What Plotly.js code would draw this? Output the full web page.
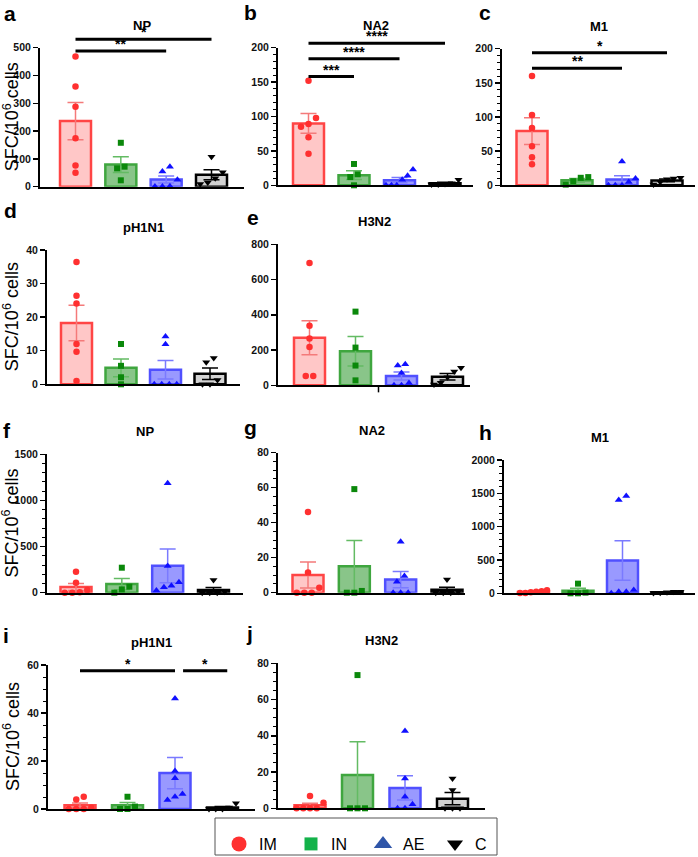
<!DOCTYPE html>
<html><head><meta charset="utf-8">
<script src="https://cdn.plot.ly/plotly-3.0.1.min.js"></script>
<style>body{margin:0;padding:0;background:#fff}#chart{width:698px;height:857px}</style>
</head><body><div id="chart"></div>
<script>
const W = 698, H = 857;
const FONT = 'Liberation Sans, Arial, Helvetica, sans-serif';

// ---------- DATA ----------
const groups = ['IM', 'IN', 'AE', 'C'];
const panelLetters = ['a','b','c','d','e','f','g','h','i','j'];
const panelTitles = ['NP','NA2','M1','pH1N1','H3N2','NP','NA2','M1','pH1N1','H3N2'];
const yAxisTitle = 'SFC/10<sup>6</sup> cells';

// a: NP
const a_IM = [468, 360, 288, 174, 76, 50];
const a_IN = [158, 72, 66, 23];
const a_AE = [72, 55, 25, 2, 1, 1];
const a_C  = [108, 52, 30, 15, 10];
// b: NA2
const b_IM = [152, 98, 89, 85, 70, 46];
const b_IN = [31, 16, 12, 0];
const b_AE = [23, 14, 8, 0, 0, 0];
const b_C  = [8, 3, 2, 1, 1];
// c: M1
const c_IM = [160, 103, 84, 57, 41, 31];
const c_IN = [12, 11, 6, 1];
const c_AE = [35, 10, 5, 0, 0, 0];
const c_C  = [11, 10, 9, 5, 1];
// d: pH1N1
const d_IM = [36.4, 26.4, 24.1, 12, 9.7, 1];
const d_IN = [12, 5.5, 2.1, 0];
const d_AE = [14.2, 11.9, 0, 0, 0, 0];
const d_C  = [7.8, 6.6, 1.3, 0, 0];
// e: H3N2
const e_IM = [694, 338, 265, 217, 53, 53];
const e_IN = [418, 214, 112, 28];
const e_AE = [119, 112, 70, 13, 0, 0];
const e_C  = [100, 78, 45, 15, 5];
// f: NP
const f_IM = [228, 108, 30, 5, 0, 0];
const f_IN = [271, 65, 36, 0];
const f_AE = [1185, 289, 112, 76, 58, 25];
const f_C  = [137, 10, 0, 0, 0];
// g: NA2
const g_IM = [46.1, 11.6, 2.9, 0, 0, 0];
const g_IN = [59.2, 1, 0, 0];
const g_AE = [29.1, 9.5, 6.3, 0, 0, 0];
const g_C  = [7.6, 0.6, 0, 0, 0];
// h: M1
const h_IM = [45, 30, 25, 15, 5, 5];
const h_IN = [145, 10, 0, 0];
const h_AE = [1460, 1400, 50, 25, 25, 0];
const h_C  = [25, 25, 15, 10, 5];
// i: pH1N1
const i_IM = [5.1, 4, 0.5, 0, 0, 0];
const i_IN = [5.1, 1, 0, 0];
const i_AE = [46, 15.8, 12.8, 6.3, 5.1, 3.8];
const i_C  = [2.4, 0.6, 0, 0, 0];
// j: H3N2
const j_IM = [6.8, 3.1, 0, 0, 0, 0];
const j_IN = [73.5, 0, 0, 0];
const j_AE = [42.6, 16.4, 6.4, 2.2, 0, 0];
const j_C  = [16.5, 10.1, 0, 0, 0];

const panelData = [
  [a_IM, a_IN, a_AE, a_C], [b_IM, b_IN, b_AE, b_C], [c_IM, c_IN, c_AE, c_C],
  [d_IM, d_IN, d_AE, d_C], [e_IM, e_IN, e_AE, e_C], [f_IM, f_IN, f_AE, f_C],
  [g_IM, g_IN, g_AE, g_C], [h_IM, h_IN, h_AE, h_C], [i_IM, i_IN, i_AE, i_C],
  [j_IM, j_IN, j_AE, j_C]
];

const yMax   = [500, 200, 200, 40, 800, 1500, 80, 2000, 60, 80];
const yDtick = [100, 50, 50, 10, 200, 500, 20, 500, 20, 20];
const yMinor = [0, 10, 10, 0, 0, 100, 5, 100, 5, 5];

// significance comparisons: [group index from, group index to, label]
const sigPairs = [
  [[0, 2, '**'], [0, 3, '*']],
  [[0, 1, '***'], [0, 2, '****'], [0, 3, '****']],
  [[0, 2, '**'], [0, 3, '*']],
  [], [], [], [], [],
  [[0, 2, '*'], [2, 3, '*']],
  []
];

// ---------- LAYOUT CONFIG (pixels) ----------
const boxes = [
  {yx:40,  xr:244, top:47.7,  bot:186.7, c0:75.5,  c3:211.5},
  {yx:278, xr:473, top:47.7,  bot:185.3, c0:308.5, c3:445},
  {yx:502, xr:695, top:48.7,  bot:185.3, c0:532,   c3:667},
  {yx:47,  xr:240, top:250,   bot:384.3, c0:76.5,  c3:210},
  {yx:278, xr:470, top:244.3, bot:385.3, c0:309.5, c3:447.5},
  {yx:47,  xr:243, top:454.3, bot:592.7, c0:76,    c3:213.5},
  {yx:278, xr:465, top:452.7, bot:592.7, c0:308,   c3:447},
  {yx:504, xr:695, top:460,   bot:593.3, c0:533.5, c3:667},
  {yx:48,  xr:255, top:665,   bot:809,   c0:80,    c3:222.5},
  {yx:278, xr:485, top:663.3, bot:808.3, c0:310,   c3:452.5}
];
const sigLevels = [[0.976, 1.060], [0.79, 0.92, 1.032], [0.856, 0.97], [], [], [], [], [], [0.96, 0.96], []];
const letterPos = [[3,18],[243,17],[478,17],[3,215],[246,222],[2,435],[243,432],[478,437],[2,640],[245,638]];
const yTitlePanels = [0, 3, 5, 8];

const styles = [
  {sym:'circle',        mc:'#ff3030', fill:'rgba(255,80,80,0.32)', line:'#ff4545', err:'#f47a7a', size:6.5, lsize:15},
  {sym:'square',        mc:'#0b880b', fill:'rgba(40,150,40,0.55)', line:'#3fa63f', err:'#63bb63', size:6,   lsize:13},
  {sym:'triangle-up',   mc:'#1010ff', fill:'rgba(60,60,255,0.52)', line:'#5050ff', err:'#7a7aff', size:7,   lsize:16},
  {sym:'triangle-down', mc:'#000000', fill:'#d3d3d3',              line:'#000000', err:'#000000', size:7,   lsize:14}
];

function mean(a){ return a.reduce((s,v)=>s+v,0)/a.length; }
function sem(a){ const m=mean(a); const v=a.reduce((s,x)=>s+(x-m)*(x-m),0)/(a.length-1); return Math.sqrt(v/a.length); }

function swarm(vals, ymax, hpx, spx){
  const dia = 6.5;
  const idx = vals.map((v,i)=>i).sort((a,b)=>vals[a]-vals[b]);
  const clusters = []; let cur = []; let last = null;
  idx.forEach(i=>{
    const p = vals[i]/ymax*hpx;
    if (last !== null && p - last < dia) cur.push(i);
    else { if (cur.length) clusters.push(cur); cur = [i]; }
    last = p;
  });
  if (cur.length) clusters.push(cur);
  const off = new Array(vals.length).fill(0);
  clusters.forEach(c=>{
    const n = c.length; if (n < 2) return;
    const dx = Math.min(7.5, 27/(n-1));
    c.forEach((i,k)=>{ off[i] = (k-(n-1)/2)*dx/spx; });
  });
  return off;
}

const traces = [];
const layout = {
  width: W, height: H, margin:{l:0,r:0,t:0,b:0,autoexpand:false},
  paper_bgcolor:'#fff', plot_bgcolor:'rgba(0,0,0,0)',
  barmode:'overlay', showlegend:true,
  font:{family:FONT, color:'#000'},
  shapes:[], annotations:[],
  legend:{orientation:'h', x:219/W, xanchor:'left', y:1-827/H, yanchor:'top', entrywidth:27, entrywidthmode:'pixels',
          bgcolor:'rgba(0,0,0,0)', borderwidth:0, font:{family:FONT, size:16, color:'#000'},
          itemclick:false, itemdoubleclick:false}
};

boxes.forEach((b, p)=>{
  const n = p + 1;
  const xa = 'xaxis' + (n===1?'':n), ya = 'yaxis' + (n===1?'':n);
  const xr = 'x' + (n===1?'':n), yr = 'y' + (n===1?'':n);
  const s = (b.c3 - b.c0)/3;
  const rl = -(b.c0 - b.yx)/s, rr = 3 + (b.xr - b.c3)/s;
  const hpx = b.bot - b.top;
  layout[xa] = {domain:[b.yx/W, b.xr/W], range:[rl, rr], anchor:yr, showline:true, linewidth:2, linecolor:'#000',
                ticks:'', showticklabels:false, showgrid:false, zeroline:false, fixedrange:true};
  const yax = {domain:[1-b.bot/H, 1-b.top/H], range:[0, yMax[p]], anchor:xr, showline:true, linewidth:2, linecolor:'#000',
               ticks:'outside', ticklen:5, tickwidth:1.5, tickcolor:'#000', tick0:0, dtick:yDtick[p],
               showgrid:false, zeroline:false, fixedrange:true,
               tickfont:{family:FONT, size:10.5, color:'#111', weight:'bold'}};
  if (yMinor[p]) yax.minor = {dtick:yMinor[p], tick0:0, ticks:'outside', ticklen:3, tickwidth:1, tickcolor:'#000', showgrid:false};
  layout[ya] = yax;

  panelData[p].forEach((vals, g)=>{
    const st = styles[g];
    traces.push({type:'bar', x:[g], y:[mean(vals)], width:31/s, xaxis:xr, yaxis:yr, showlegend:false,
      marker:{color:st.fill, line:{color:st.line, width:2.5}},
      error_y:{type:'data', array:[sem(vals)], visible:true, color:st.err, thickness:1.5, width:8},
      hoverinfo:'skip'});
  });
  panelData[p].forEach((vals, g)=>{
    const st = styles[g];
    const off = swarm(vals, yMax[p], hpx, s);
    traces.push({type:'scatter', mode:'markers', x:vals.map((v,i)=>g+off[i]), y:vals, xaxis:xr, yaxis:yr,
      showlegend:false, cliponaxis:false, hoverinfo:'skip',
      marker:{symbol:st.sym, size:st.size, color:st.mc, line:{width:0}}});
  });

  // significance
  const ends = {};
  sigPairs[p].forEach((sp, k)=>{
    const lvl = sigLevels[p][k];
    let x0 = sp[0], x1 = sp[1];
    if (ends[lvl] !== undefined && ends[lvl] === x0) { x0 += 0.17; x1 += 0.1; }
    ends[lvl] = sp[1];
    layout.shapes.push({type:'line', xref:xr, yref:yr+' domain', x0:x0, x1:x1, y0:lvl, y1:lvl, line:{color:'#000', width:3}});
    layout.annotations.push({xref:xr, yref:yr+' domain', x:(x0+x1)/2, y:lvl, yanchor:'bottom', yshift:-3,
      text:sp[2], showarrow:false, font:{family:FONT, size:14, color:'#000', weight:'bold'}});
  });

  // panel title
  layout.annotations.push({xref:'paper', yref:'paper', x:(b.yx+b.xr)/2/W, y:1-(b.top-22.5)/H, xanchor:'center', yanchor:'middle',
    text:panelTitles[p], showarrow:false, font:{family:FONT, size:13, color:'#000', weight:'bold'}});
  // panel letter
  layout.annotations.push({xref:'paper', yref:'paper', x:letterPos[p][0]/W, y:1-(letterPos[p][1]+8)/H, xanchor:'left', yanchor:'bottom',
    borderpad:0, text:panelLetters[p], showarrow:false, font:{family:FONT, size:21, color:'#000', weight:'bold'}});
  if (yTitlePanels.includes(p)) {
    layout.annotations.push({xref:'paper', yref:'paper', x:11/W, y:1-(b.top+b.bot)/2/H, xanchor:'center', yanchor:'middle',
      textangle:-90, text:yAxisTitle, showarrow:false, font:{family:FONT, size:18, color:'#000'}});
  }
});

// small stray x tick visible under panel e
layout.shapes.push({type:'line', xref:'x5', yref:'y5 domain', x0:1.5, x1:1.5, y0:0, y1:-0.05, line:{color:'#000', width:1.5}});

// legend entries
groups.forEach((g, k)=>{
  const st = styles[k];
  traces.push({type:'scatter', mode:'markers', x:[null], y:[null], xaxis:'x', yaxis:'y', name:g, showlegend:true,
    marker:{symbol:st.sym, size:st.lsize, color:k===2?'#2f55a8':(k===1?'#13b24a':st.mc), line:{width:0}}});
});
layout.shapes.push({type:'rect', xref:'paper', yref:'paper', x0:215/W, x1:497/W, y0:1-855/H, y1:1-818/H,
  line:{color:'#555', width:1}, fillcolor:'rgba(0,0,0,0)'});

Plotly.newPlot('chart', traces, layout, {staticPlot:true, displayModeBar:false});
</script>
</body></html>
